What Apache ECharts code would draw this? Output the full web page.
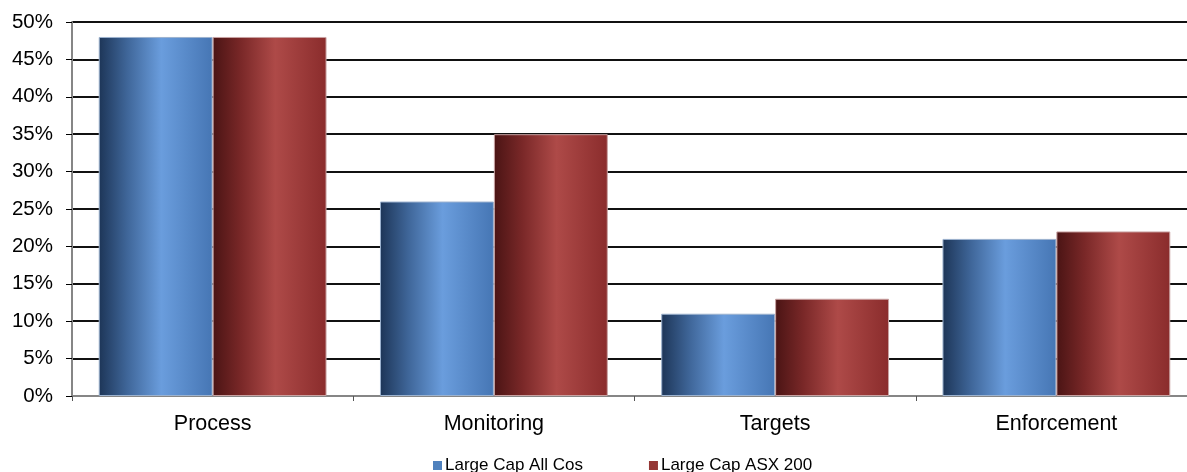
<!DOCTYPE html>
<html>
<head>
<meta charset="utf-8">
<script src="https://cdn.jsdelivr.net/npm/echarts@6/dist/echarts.min.js"></script>
<style>
  html, body { margin: 0; padding: 0; background: #fff; overflow: hidden; }
  /* the canvas is a little wider than the window so the last category runs off the edge */
  #chart { width: 1200px; height: 472px; }
</style>
</head>
<body>
<div id="chart"></div>
<script>
const categories = ['Process', 'Monitoring', 'Targets', 'Enforcement'];
const seriesNames = ['Large Cap All Cos', 'Large Cap ASX 200'];
const allCos = [48, 26, 11, 21];
const asx200 = [48, 35, 13, 22];

// Horizontal gradients give each bar a rounded, cylinder-like shading
function shade(dark, mid, light, edge) {
  return new echarts.graphic.LinearGradient(0, 0, 1, 0, [
    { offset: 0, color: dark },
    { offset: 0.25, color: mid },
    { offset: 0.55, color: light },
    { offset: 1, color: edge }
  ]);
}
const blueFill = shade('#1d3557', '#3f6699', '#6a9ddd', '#4676b4');
const redFill = shade('#4a1414', '#7a2828', '#ae4a48', '#8a2c2c');

const chart = echarts.init(document.getElementById('chart'));
chart.setOption({
  animation: false,
  grid: { left: 72, right: 3, top: 22, bottom: 76 },
  legend: {
    top: 457,
    left: 433,
    padding: 0,
    itemWidth: 9,
    itemHeight: 9,
    itemGap: 66,
    icon: 'rect',
    textStyle: { fontFamily: 'Liberation Sans', fontSize: 17, color: '#000', padding: [0, 0, 0, -2] },
    data: [
      { name: seriesNames[0], itemStyle: { color: '#4f81bd', borderWidth: 0 } },
      { name: seriesNames[1], itemStyle: { color: '#953735', borderWidth: 0 } }
    ]
  },
  xAxis: {
    type: 'category',
    data: categories,
    axisLine: { lineStyle: { color: '#868686', width: 2 } },
    axisTick: { show: true, length: 5, lineStyle: { color: '#555' } },
    axisLabel: { fontFamily: 'Liberation Sans', fontSize: 21.5, color: '#000', margin: 17 }
  },
  yAxis: {
    type: 'value',
    min: 0,
    max: 50,
    interval: 5,
    axisLine: { show: true, lineStyle: { color: '#868686', width: 2 } },
    axisTick: { show: true, length: 6, lineStyle: { color: '#000' } },
    splitLine: { lineStyle: { color: '#111', width: 2 } },
    axisLabel: {
      fontFamily: 'Liberation Sans', fontSize: 20.5, color: '#000', margin: 19,
      formatter: v => v + '%'
    }
  },
  series: [
    {
      name: seriesNames[0], type: 'bar', data: allCos,
      barGap: '0%', barCategoryGap: '19%',
      itemStyle: { color: blueFill, borderColor: '#9db3cf', borderWidth: 1 }
    },
    {
      name: seriesNames[1], type: 'bar', data: asx200,
      itemStyle: { color: redFill, borderColor: '#c9a3a3', borderWidth: 1 }
    }
  ]
});
</script>
</body>
</html>
